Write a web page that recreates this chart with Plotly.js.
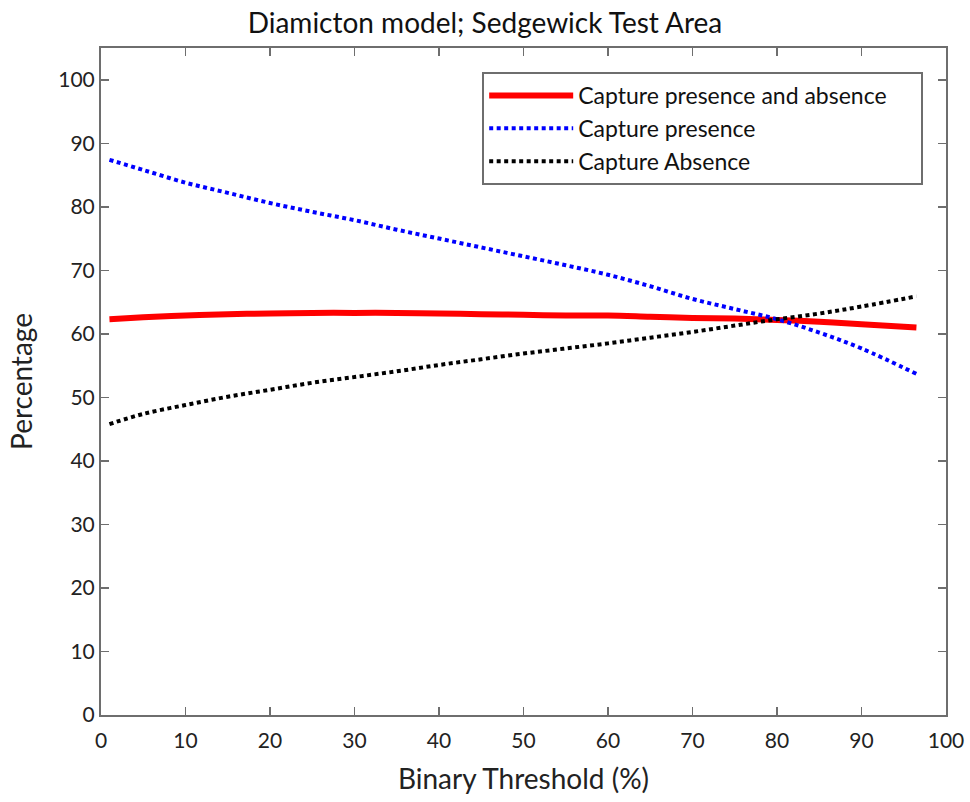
<!DOCTYPE html>
<html>
<head>
<meta charset="utf-8">
<script src="https://cdn.plot.ly/plotly-3.0.1.min.js"></script>
<style>html,body{margin:0;padding:0;background:#fff;}#chart{width:970px;height:802px;}</style>
</head>
<body>
<div id="chart"></div>
<script>
const thresholds = [1, 5, 10, 15, 20, 25, 30, 35, 40, 45, 50, 55, 60, 65, 70, 75, 80, 85, 90, 96.5];
const presenceAbsence = [62.3, 62.6, 62.9, 63.1, 63.2, 63.3, 63.3, 63.3, 63.2, 63.1, 63.0, 62.9, 62.9, 62.7, 62.5, 62.4, 62.2, 61.9, 61.5, 61.0];
const presence = [87.4, 85.8, 83.8, 82.2, 80.6, 79.2, 77.9, 76.4, 75.0, 73.6, 72.2, 70.8, 69.3, 67.5, 65.5, 63.9, 62.3, 60.2, 57.7, 53.7];
const absence = [45.8, 47.4, 48.8, 50.1, 51.2, 52.3, 53.2, 54.1, 55.1, 56.0, 56.9, 57.7, 58.5, 59.4, 60.3, 61.3, 62.3, 63.2, 64.3, 65.9];
const seriesNames = ["Capture presence and absence", "Capture presence", "Capture Absence"];
const xTicks = [0, 10, 20, 30, 40, 50, 60, 70, 80, 90, 100];
const yTicks = [0, 10, 20, 30, 40, 50, 60, 70, 80, 90, 100];

const font = "Lato, 'Open Sans', sans-serif";
const pad = "\u00a0\u00a0\u00a0\u00a0\u00a0";

const traces = [
  {x: thresholds, y: presenceAbsence, name: seriesNames[0] + pad, mode: "lines",
   line: {color: "#ff0000", width: 6, shape: "spline"}},
  {x: thresholds, y: presence, name: seriesNames[1], mode: "lines",
   line: {color: "#0000ff", width: 4, dash: "4px,3.5px", shape: "spline"}},
  {x: thresholds, y: absence, name: seriesNames[2], mode: "lines",
   line: {color: "#000000", width: 4, dash: "4px,3.5px", shape: "spline"}}
];

const axisCommon = {
  showgrid: false, zeroline: false, showline: true, linecolor: "#6e6e6e", linewidth: 2,
  mirror: "ticks", ticks: "inside", ticklen: 8, tickwidth: 1.5, tickcolor: "#6e6e6e",
  tickfont: {family: font, size: 21, color: "#222"}
};

const layout = {
  width: 970, height: 802,
  paper_bgcolor: "#fff", plot_bgcolor: "#fff",
  margin: {l: 101, r: 24, t: 48, b: 87},
  title: {text: "Diamicton model; Sedgewick Test Area", font: {family: font, size: 28, color: "#111"},
          x: 0.5, xanchor: "center", y: 0.971, yanchor: "middle"},
  xaxis: Object.assign({}, axisCommon, {
    range: [0, 100], tickvals: xTicks, ticktext: xTicks.map(String),
    ticklabelstandoff: 6,
    title: {text: "Binary Threshold (%)", font: {family: font, size: 28, color: "#222"}, standoff: 18}
  }),
  yaxis: Object.assign({}, axisCommon, {
    range: [0, 105], tickvals: yTicks, ticktext: yTicks.map(String),
    title: {text: "Percentage", font: {family: font, size: 28, color: "#222"}, standoff: 17}
  }),
  showlegend: true,
  legend: {
    x: 0.973, xanchor: "right", y: 0.964, yanchor: "top",
    bgcolor: "#fff", bordercolor: "#6e6e6e", borderwidth: 2,
    font: {family: font, size: 23, color: "#111"},
    itemwidth: 84, tracegroupgap: 0
  }
};

Plotly.newPlot("chart", traces, layout, {displayModeBar: false, staticPlot: true});
</script>
</body>
</html>
